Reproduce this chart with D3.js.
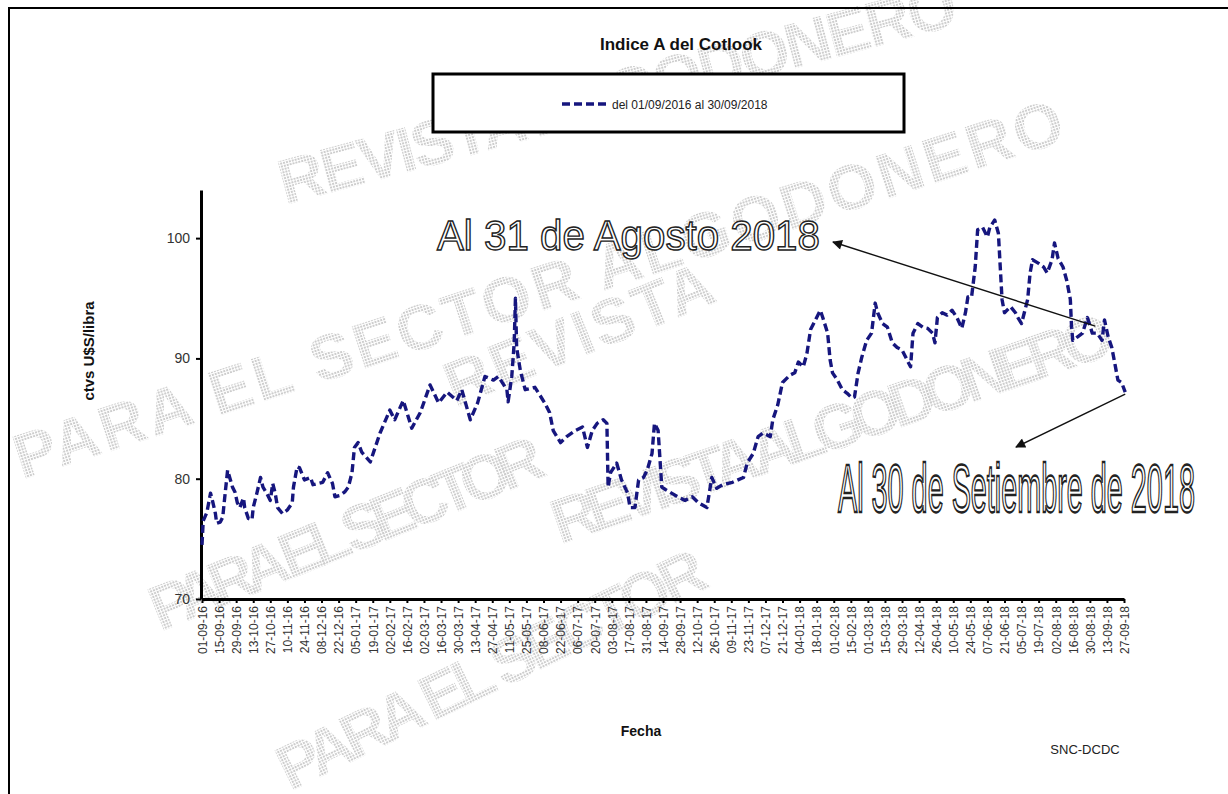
<!DOCTYPE html>
<html><head><meta charset="utf-8">
<script src="https://cdn.jsdelivr.net/npm/d3@7"></script>
<style>body{margin:0;background:#fff}svg{display:block}text{font-family:"Liberation Sans",Arial,Helvetica,sans-serif}</style>
</head><body><svg id="c" width="1228" height="794"></svg>
<script>
const chartTitle = "Indice A del Cotlook";
const seriesName = "del 01/09/2016 al 30/09/2018";
const yTitle = "ctvs U$S/libra";
const xTitle = "Fecha";
const sourceText = "SNC-DCDC";
const yTicks = [70, 80, 90, 100];
const yDomain = [70, 104];
const tickLabels = ["01-09-16","15-09-16","29-09-16","13-10-16","27-10-16","10-11-16","24-11-16","08-12-16","22-12-16",
"05-01-17","19-01-17","02-02-17","16-02-17","02-03-17","16-03-17","30-03-17","13-04-17","27-04-17","11-05-17","25-05-17",
"08-06-17","22-06-17","06-07-17","20-07-17","03-08-17","17-08-17","31-08-17","14-09-17","28-09-17","12-10-17","26-10-17",
"09-11-17","23-11-17","07-12-17","21-12-17","04-01-18","18-01-18","01-02-18","15-02-18","01-03-18","15-03-18","29-03-18",
"12-04-18","26-04-18","10-05-18","24-05-18","07-06-18","21-06-18","05-07-18","19-07-18","02-08-18","16-08-18","30-08-18",
"13-09-18","27-09-18"];

const cotlook2016 = [["2016-09-01",74.5],["2016-09-02",76.5],["2016-09-05",77.2],["2016-09-08",78.8],["2016-09-10",78.0],
["2016-09-12",77.1],["2016-09-13",76.3],["2016-09-16",76.4],["2016-09-18",76.8],["2016-09-20",78.8],["2016-09-22",80.7],
["2016-09-26",79.3],["2016-09-28",78.9],["2016-09-30",78.0],["2016-10-02",77.6],["2016-10-05",78.4],["2016-10-06",77.6],
["2016-10-09",76.7],["2016-10-12",76.6],["2016-10-13",77.6],["2016-10-16",78.8],["2016-10-19",80.1],["2016-10-21",79.3],
["2016-10-24",78.8],["2016-10-27",78.2],["2016-10-29",79.6],["2016-10-31",78.8],["2016-11-02",77.6],["2016-11-06",77.1],
["2016-11-10",77.4],["2016-11-14",78.0],["2016-11-15",79.3],["2016-11-18",81.0],["2016-11-20",80.9],["2016-11-24",79.9],
["2016-11-29",80.1],["2016-12-01",79.5],["2016-12-05",79.6],["2016-12-09",79.7],["2016-12-13",80.5],["2016-12-17",79.6],
["2016-12-19",78.5],["2016-12-23",78.6],["2016-12-27",78.9],["2016-12-30",79.3]];

const cotlook2017 = [["2017-01-02",80.5],["2017-01-04",82.6],["2017-01-07",83.0],["2017-01-10",82.2],["2017-01-17",81.4],
["2017-01-25",83.8],["2017-02-02",85.7],["2017-02-06",84.9],["2017-02-13",86.5],["2017-02-20",84.2],["2017-02-27",85.5],
["2017-03-07",87.8],["2017-03-14",86.3],["2017-03-21",87.2],["2017-03-29",86.5],["2017-04-02",87.4],["2017-04-09",84.9],
["2017-04-15",86.3],["2017-04-21",88.5],["2017-04-28",88.2],["2017-05-02",88.5],["2017-05-09",87.4],["2017-05-10",86.4],
["2017-05-13",88.5],["2017-05-15",91.3],["2017-05-16",95.0],["2017-05-17",90.9],["2017-05-20",89.0],["2017-05-24",87.4],
["2017-06-01",87.6],["2017-06-09",86.3],["2017-06-13",85.5],["2017-06-16",84.0],["2017-06-22",83.0],["2017-06-27",83.5],
["2017-07-04",84.0],["2017-07-10",84.3],["2017-07-14",82.6],["2017-07-18",84.0],["2017-07-22",84.6],["2017-07-27",84.9],
["2017-07-30",84.6],["2017-07-31",79.3],["2017-08-02",80.5],["2017-08-07",81.3],["2017-08-11",79.9],["2017-08-16",78.8],
["2017-08-18",77.6],["2017-08-22",77.6],["2017-08-25",79.9],["2017-08-29",80.1],["2017-09-01",80.7],["2017-09-05",82.1],
["2017-09-07",84.6],["2017-09-10",84.0],["2017-09-13",79.3],["2017-09-16",79.1],["2017-09-21",78.8],["2017-09-26",78.5],
["2017-10-02",78.2],["2017-10-08",78.5],["2017-10-13",78.0],["2017-10-20",77.6],["2017-10-24",80.1],["2017-10-28",79.2],
["2017-11-02",79.5],["2017-11-10",79.7],["2017-11-19",80.1],["2017-11-22",81.3],["2017-11-27",82.1],["2017-12-01",83.5],
["2017-12-05",83.8],["2017-12-11",83.5],["2017-12-13",84.9],["2017-12-17",86.1],["2017-12-21",88.0],["2017-12-27",88.6],
["2017-12-31",88.8]];

const cotlook2018 = [["2018-01-03",89.7],["2018-01-07",89.3],["2018-01-10",90.4],["2018-01-13",92.4],["2018-01-15",92.8],
["2018-01-21",94.0],["2018-01-23",93.4],["2018-01-27",92.1],["2018-01-29",89.9],["2018-01-31",88.8],["2018-02-04",88.2],
["2018-02-08",87.4],["2018-02-12",87.1],["2018-02-16",86.7],["2018-02-18",86.8],["2018-02-21",88.8],["2018-02-24",90.1],
["2018-02-28",91.5],["2018-03-04",92.1],["2018-03-07",94.6],["2018-03-09",93.8],["2018-03-13",92.9],["2018-03-17",92.6],
["2018-03-21",91.3],["2018-03-25",90.9],["2018-03-29",90.7],["2018-04-02",89.9],["2018-04-05",89.3],["2018-04-07",92.1],
["2018-04-11",92.9],["2018-04-15",92.6],["2018-04-19",92.5],["2018-04-23",92.1],["2018-04-25",91.3],["2018-04-27",93.4],
["2018-05-01",93.8],["2018-05-05",93.6],["2018-05-09",94.0],["2018-05-13",93.4],["2018-05-17",92.5],["2018-05-20",93.8],
["2018-05-22",95.1],["2018-05-25",95.1],["2018-05-28",97.6],["2018-05-30",100.7],["2018-06-03",100.9],["2018-06-07",100.1],
["2018-06-09",100.9],["2018-06-13",101.5],["2018-06-16",100.4],["2018-06-19",94.9],["2018-06-21",93.8],["2018-06-26",94.3],
["2018-06-30",93.8],["2018-07-02",93.4],["2018-07-05",92.9],["2018-07-10",94.9],["2018-07-12",97.1],["2018-07-14",98.2],
["2018-07-19",97.9],["2018-07-23",97.6],["2018-07-26",97.1],["2018-07-30",98.2],["2018-08-01",99.6],["2018-08-04",98.3],
["2018-08-08",97.6],["2018-08-11",96.5],["2018-08-14",94.9],["2018-08-15",92.6],["2018-08-16",91.5],["2018-08-20",91.8],
["2018-08-24",92.1],["2018-08-28",93.4],["2018-09-01",92.1],["2018-09-05",92.1],["2018-09-09",91.5],["2018-09-11",93.2],
["2018-09-14",91.8],["2018-09-17",90.9],["2018-09-20",89.3],["2018-09-22",88.2],["2018-09-25",88.0],["2018-09-28",87.2]];

const noteLabels = ["Al 31 de Agosto 2018", "Al 30 de Setiembre de 2018"];
const noteDates = ["2018-08-31", "2018-09-28"];
const watermarkLines = ["REVISTA ALGODONERO", "PARA EL SECTOR ALGODONERO", "REVISTA", "REVISTA ALGODONERO", "PARA EL SECTOR", "PARA EL SECTOR"];

// ---------- drawing ----------
const svg = d3.select("#c");
const parseISO = d3.timeParse("%Y-%m-%d");
const parseTick = d3.timeParse("%d-%m-%y");
const data = [...cotlook2016, ...cotlook2017, ...cotlook2018].map(d => ({date: parseISO(d[0]), value: d[1]}));
const tickDates = tickLabels.map(parseTick);

const x = d3.scaleTime().domain([tickDates[0], tickDates[tickDates.length - 1]]).range([202, 1124]);
const y = d3.scaleLinear().domain(yDomain).range([599, 190]);

const defs = svg.append("defs");
const pat = defs.append("pattern").attr("id", "dots").attr("width", 3).attr("height", 3).attr("patternUnits", "userSpaceOnUse");
pat.append("rect").attr("width", 2).attr("height", 2).attr("fill", "#cdcdcd");
defs.append("marker").attr("id", "arr").attr("viewBox", "0 0 10 10").attr("refX", 9).attr("refY", 5)
  .attr("markerWidth", 14).attr("markerHeight", 10).attr("markerUnits", "userSpaceOnUse").attr("orient", "auto")
  .append("path").attr("d", "M0,0L10,5L0,10z").attr("fill", "#111");

svg.append("rect").attr("width", 1228).attr("height", 794).attr("fill", "#fff");

// watermark (decorative): [x, y, angle, length]
const wmPos = [[285, 205, -15, 700], [22, 480, -18, 1100], [455, 408, -22, 285], [560, 545, -19, 590], [160, 632, -22, 420], [290, 792, -26, 470]];
svg.append("g").selectAll("text").data(watermarkLines).join("text")
  .attr("transform", (d, i) => `translate(${wmPos[i][0]},${wmPos[i][1]}) rotate(${wmPos[i][2]})`)
  .attr("font-size", 64).attr("font-weight", "bold").attr("fill", "url(#dots)")
  .attr("textLength", (d, i) => wmPos[i][3]).attr("lengthAdjust", "spacing")
  .text(d => d);

// frame (top and left edges visible)
svg.append("path").attr("d", "M9,800V8H1228").attr("fill", "none").attr("stroke", "#000").attr("stroke-width", 2);

// title
svg.append("text").attr("x", 681).attr("y", 50).attr("text-anchor", "middle")
  .attr("font-size", 17).attr("font-weight", "bold").attr("fill", "#111").text(chartTitle);

// legend
svg.append("rect").attr("x", 433).attr("y", 74).attr("width", 471).attr("height", 58)
  .attr("fill", "#fff").attr("stroke", "#000").attr("stroke-width", 3);
svg.append("line").attr("x1", 562).attr("x2", 608).attr("y1", 104).attr("y2", 104)
  .attr("stroke", "#16167e").attr("stroke-width", 3.4).attr("stroke-dasharray", "8,4");
svg.append("text").attr("x", 612).attr("y", 108.5).attr("font-size", 12).attr("fill", "#222").text(seriesName);

// axes
const yAxis = svg.append("g").attr("transform", "translate(201,0)")
  .call(d3.axisLeft(y).tickValues(yTicks).tickSize(5).tickSizeOuter(0).tickPadding(6));
yAxis.select(".domain").attr("stroke", "#000").attr("stroke-width", 3);
yAxis.selectAll(".tick line").attr("stroke", "#000").attr("stroke-width", 2);
yAxis.selectAll(".tick text").attr("font-size", 14).attr("fill", "#333").attr("font-family", "Liberation Sans, Arial, sans-serif");

const xAxis = svg.append("g").attr("transform", "translate(0,599)")
  .call(d3.axisBottom(x).tickValues(tickDates).tickFormat(d3.timeFormat("%d-%m-%y")).tickSize(4).tickSizeOuter(0));
xAxis.select(".domain").attr("stroke", "#000").attr("stroke-width", 3);
xAxis.selectAll(".tick line").attr("stroke", "#000").attr("stroke-width", 2);
xAxis.selectAll(".tick text").attr("font-size", 12).attr("fill", "#333")
  .attr("font-family", "Liberation Sans, Arial, sans-serif")
  .attr("transform", "rotate(-90)").attr("text-anchor", "end").attr("x", -7).attr("y", 0).attr("dy", "0.36em");

// axis titles
svg.append("text").attr("transform", "translate(94,351) rotate(-90)").attr("text-anchor", "middle")
  .attr("font-size", 15).attr("font-weight", "bold").attr("fill", "#111").text(yTitle);
svg.append("text").attr("x", 641).attr("y", 736).attr("text-anchor", "middle")
  .attr("font-size", 14).attr("font-weight", "bold").attr("fill", "#111").text(xTitle);
svg.append("text").attr("x", 1085).attr("y", 754).attr("text-anchor", "middle")
  .attr("font-size", 13).attr("fill", "#222").text(sourceText);

// series line
const line = d3.line().x(d => x(d.date)).y(d => y(d.value));
svg.append("path").datum(data).attr("d", line).attr("fill", "none")
  .attr("stroke", "#16167e").attr("stroke-width", 3.4).attr("stroke-dasharray", "8,4").attr("stroke-linejoin", "round");

// annotations
const noteVals = noteDates.map(nd => { const t = parseISO(nd); return d3.least(data, d => Math.abs(d.date - t)); });
svg.append("line").attr("x1", x(noteVals[0].date) + 3).attr("y1", y(noteVals[0].value) - 7)
  .attr("x2", 833).attr("y2", 242).attr("stroke", "#111").attr("stroke-width", 1.4).attr("marker-end", "url(#arr)");
svg.append("line").attr("x1", x(noteVals[1].date)).attr("y1", y(noteVals[1].value) + 2)
  .attr("x2", 1016).attr("y2", 447).attr("stroke", "#111").attr("stroke-width", 1.4).attr("marker-end", "url(#arr)");

// outlined annotation texts, horizontally condensed with a transform to fit their boxes
const noteBoxes = [[437, 250, 42, 383, 1.4], [838, 512, 68, 357, 1.5]];
noteLabels.forEach((t, i) => {
  const [nx, ny, fs, w, sw] = noteBoxes[i];
  const g = svg.append("g");
  const txt = g.append("text").attr("x", 0).attr("y", 0).attr("font-size", fs)
    .attr("fill", "#fff").attr("stroke", "#222").attr("stroke-width", sw).text(t);
  const natural = txt.node().getComputedTextLength();
  const sx = w / natural;
  g.attr("transform", `translate(${nx},${ny}) scale(${sx},1)`);
  txt.attr("stroke-width", sw / Math.sqrt(sx));
});
</script></body></html>
